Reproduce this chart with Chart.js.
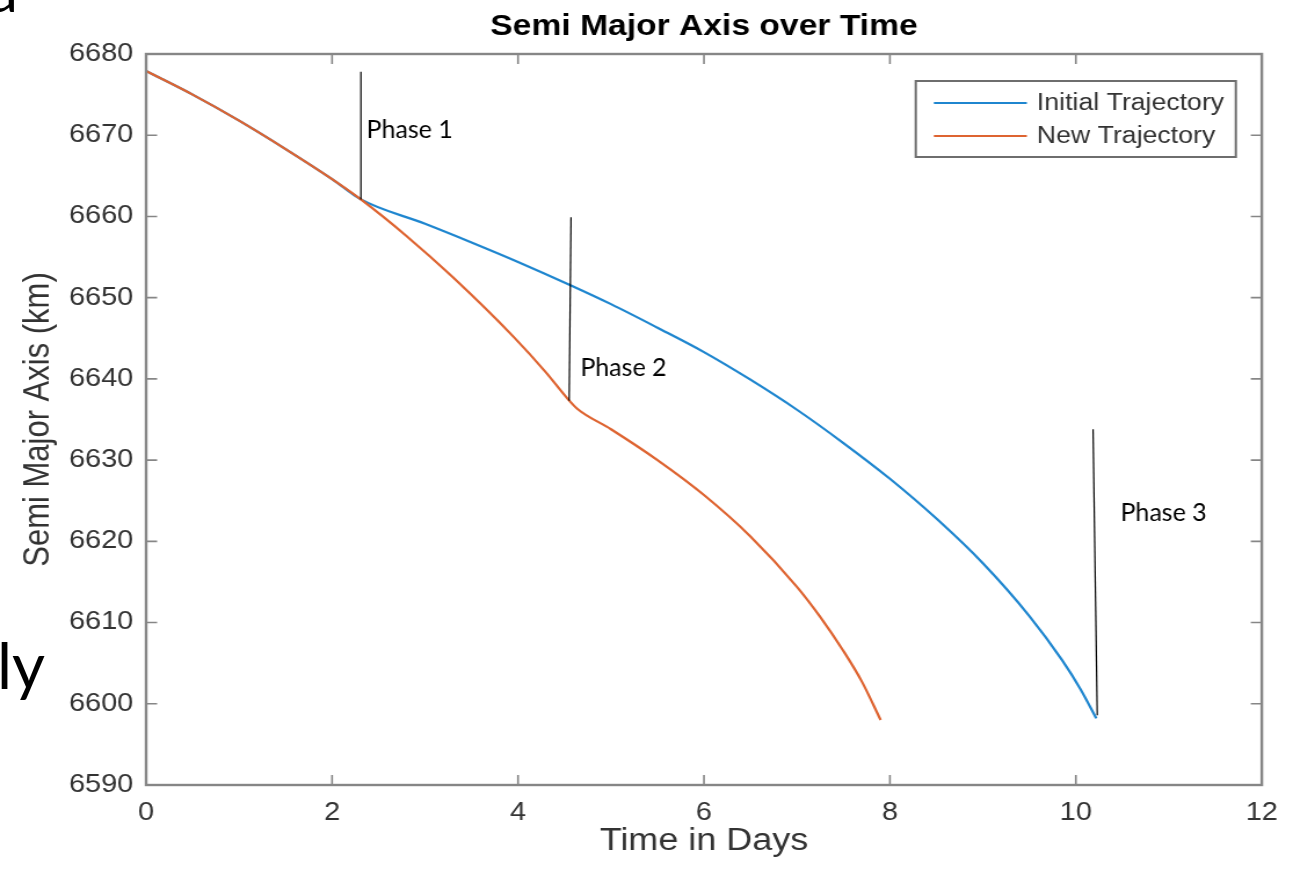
<!DOCTYPE html>
<html>
<head>
<meta charset="utf-8">
<title>Semi Major Axis over Time</title>
<script src="https://cdn.jsdelivr.net/npm/chart.js@4.4.1/dist/chart.umd.min.js"></script>
<style>
  html, body { margin: 0; padding: 0; background: #fff; overflow: hidden; }
  #wrap { position: relative; width: 1293px; height: 869px; }
  #semi-chart { position: absolute; left: 0; top: 0; }
  .slide-text { position: absolute; font-family: Lato, "Open Sans", sans-serif; color: #000; line-height: 1; white-space: nowrap; }
</style>
</head>
<body>
<div id="wrap">
  <!-- the figure in the slide is stretched sideways, so the canvas is drawn narrow and shown wide -->
  <canvas id="semi-chart" width="1115" height="869" style="width:1293px; height:869px;"></canvas>
  <div class="slide-text" style="left:-12px; top:-41px; font-size:60px;">a</div>
  <div class="slide-text" style="left:-3px; top:633px; font-size:64px;">ly</div>
</div>
<script>
// Stretch between canvas pixels and page pixels
const STRETCH = 1293 / 1115;

// Data
const initialDays = [0, 0.5, 1.0, 1.5, 2.0, 2.31, 3.0, 3.5, 4.0, 4.57, 5.0, 5.5, 6.0, 6.5, 7.0, 7.5, 8.0, 8.5, 9.0, 9.5, 9.85, 10.05, 10.22];
const initialAxis = [6677.9, 6675.0, 6671.8, 6668.3, 6664.6, 6662.1, 6659.1, 6656.8, 6654.4, 6651.5, 6649.2, 6646.3, 6643.3, 6639.9, 6636.2, 6632.1, 6627.7, 6622.8, 6617.3, 6610.8, 6605.4, 6601.8, 6598.2];

const newDays = [0, 0.5, 1.0, 1.5, 2.0, 2.31, 2.8, 3.3, 3.95, 4.3, 4.53, 4.64, 5.0, 5.5, 6.0, 6.5, 7.0, 7.25, 7.5, 7.7, 7.9];
const newAxis = [6677.9, 6675.0, 6671.8, 6668.3, 6664.6, 6662.1, 6657.6, 6652.5, 6645.2, 6640.8, 6637.6, 6636.3, 6633.8, 6630.0, 6625.7, 6620.6, 6614.4, 6610.7, 6606.5, 6602.7, 6598.0];

// Phase marker lines (start and end of each)
const phaseNames = ["Phase 1", "Phase 2", "Phase 3"];
const phaseLineDays = [[2.31, 2.31], [4.57, 4.55], [10.185, 10.23]];
const phaseLineAxis = [[6677.8, 6662.1], [6659.9, 6637.3], [6633.8, 6598.6]];
const phaseTextDays = [2.37, 4.67, 10.48];
const phaseTextAxis = [6669.6, 6640.4, 6622.5];

// Axes
const xTicks = [0, 2, 4, 6, 8, 10, 12];
const yTicks = [6590, 6600, 6610, 6620, 6630, 6640, 6650, 6660, 6670, 6680];

const chartTitle = "Semi Major Axis over Time";
const xTitle = "Time in Days";
const yTitle = "Semi Major Axis (km)";

const BLUE = "#1f86cf";
const ORANGE = "#de6431";
const AXIS_GREY = "#868686";
const TEXT = "#333333";
const MATLAB_FONT = "'Liberation Sans', Arial, sans-serif";

function toPoints(xs, ys) {
  return xs.map((v, i) => ({ x: v, y: ys[i] }));
}

const phaseSets = phaseNames.map((name, i) => ({
  label: name,
  data: toPoints(phaseLineDays[i], phaseLineAxis[i]),
  borderColor: "#000",
  borderWidth: 1.2,
  pointRadius: 0,
  order: 0,
  isPhase: true
}));

// Title, frame with inward ticks, legend box and phase labels
const matlabLook = {
  id: "matlabLook",
  afterDatasetsDraw(chart) {
    const { ctx, chartArea: a, scales: { x, y } } = chart;
    ctx.save();

    // ticks on all four sides, pointing in
    ctx.strokeStyle = AXIS_GREY;
    ctx.lineWidth = 1.6;
    x.ticks.forEach((t) => {
      const px = x.getPixelForValue(t.value);
      ctx.beginPath();
      ctx.moveTo(px, a.bottom); ctx.lineTo(px, a.bottom - 10);
      ctx.moveTo(px, a.top); ctx.lineTo(px, a.top + 10);
      ctx.stroke();
    });
    y.ticks.forEach((t) => {
      const py = y.getPixelForValue(t.value);
      ctx.beginPath();
      ctx.moveTo(a.left, py); ctx.lineTo(a.left + 9.5, py);
      ctx.moveTo(a.right, py); ctx.lineTo(a.right - 9.5, py);
      ctx.stroke();
    });
    ctx.lineWidth = 2.4;
    ctx.strokeRect(a.left, a.top, a.right - a.left, a.bottom - a.top);

    // title, centred on the plot box
    ctx.fillStyle = "#000";
    ctx.font = "bold 29px " + MATLAB_FONT;
    ctx.textAlign = "center";
    ctx.textBaseline = "alphabetic";
    ctx.fillText(chartTitle, (a.left + a.right) / 2, 35);

    // legend
    const entries = chart.data.datasets.filter((d) => !d.isPhase);
    const bw = 276, bh = 76;
    const bx = a.right - 22.4 - bw, by = a.top + 27;
    ctx.fillStyle = "#fff";
    ctx.fillRect(bx, by, bw, bh);
    ctx.strokeStyle = "#6e6e6e";
    ctx.lineWidth = 2;
    ctx.strokeRect(bx, by, bw, bh);
    ctx.font = "23px " + MATLAB_FONT;
    ctx.textAlign = "left";
    ctx.textBaseline = "middle";
    entries.forEach((d, i) => {
      const ly = by + 22 + i * 33;
      ctx.strokeStyle = d.borderColor;
      ctx.lineWidth = 2.2;
      ctx.beginPath();
      ctx.moveTo(bx + 15.6, ly); ctx.lineTo(bx + 95.8, ly);
      ctx.stroke();
      ctx.fillStyle = TEXT;
      ctx.fillText(d.label, bx + 104.4, ly + 1);
    });

    // phase labels, typed on the slide so not stretched
    ctx.fillStyle = "#000";
    ctx.font = "25px Lato, 'Open Sans', sans-serif";
    ctx.textBaseline = "alphabetic";
    phaseNames.forEach((name, i) => {
      ctx.save();
      ctx.translate(x.getPixelForValue(phaseTextDays[i]), y.getPixelForValue(phaseTextAxis[i]));
      ctx.scale(1 / STRETCH, 1);
      ctx.fillText(name, 0, 0);
      ctx.restore();
    });

    ctx.restore();
  }
};

const ctx = document.getElementById("semi-chart").getContext("2d");

new Chart(ctx, {
  type: "line",
  data: {
    datasets: [
      {
        label: "Initial Trajectory",
        data: toPoints(initialDays, initialAxis),
        borderColor: BLUE,
        borderWidth: 2.2,
        pointRadius: 0,
        cubicInterpolationMode: "monotone",
        order: 2
      },
      {
        label: "New Trajectory",
        data: toPoints(newDays, newAxis),
        borderColor: ORANGE,
        borderWidth: 2.2,
        pointRadius: 0,
        cubicInterpolationMode: "monotone",
        order: 1
      },
      ...phaseSets
    ]
  },
  options: {
    responsive: false,
    animation: false,
    events: [],
    layout: { padding: { top: 54, right: 21.5, bottom: 0, left: 0 } },
    plugins: {
      legend: { display: false },
      title: { display: false },
      tooltip: { enabled: false }
    },
    scales: {
      x: {
        type: "linear",
        min: 0,
        max: 12,
        afterBuildTicks: (scale) => { scale.ticks = xTicks.map((v) => ({ value: v })); },
        afterFit: (scale) => { scale.height = 84; },
        grid: { display: false, drawTicks: false },
        border: { display: false },
        ticks: { color: TEXT, font: { family: MATLAB_FONT, size: 25 }, padding: 13, maxRotation: 0, callback: (v) => String(v) },
        title: { display: true, text: xTitle, color: TEXT, font: { family: MATLAB_FONT, size: 31 }, padding: { top: 0, bottom: 9 } }
      },
      y: {
        type: "linear",
        min: 6590,
        max: 6680,
        afterBuildTicks: (scale) => { scale.ticks = yTicks.map((v) => ({ value: v })); },
        afterFit: (scale) => { scale.width = 126; },
        grid: { display: false, drawTicks: false },
        border: { display: false },
        ticks: { color: TEXT, font: { family: MATLAB_FONT, size: 25 }, padding: 11, callback: (v) => String(v) },
        title: { display: true, text: yTitle, color: TEXT, font: { family: MATLAB_FONT, size: 31 }, padding: { top: 15, bottom: 0 } }
      }
    }
  },
  plugins: [matlabLook]
});
</script>
</body>
</html>
